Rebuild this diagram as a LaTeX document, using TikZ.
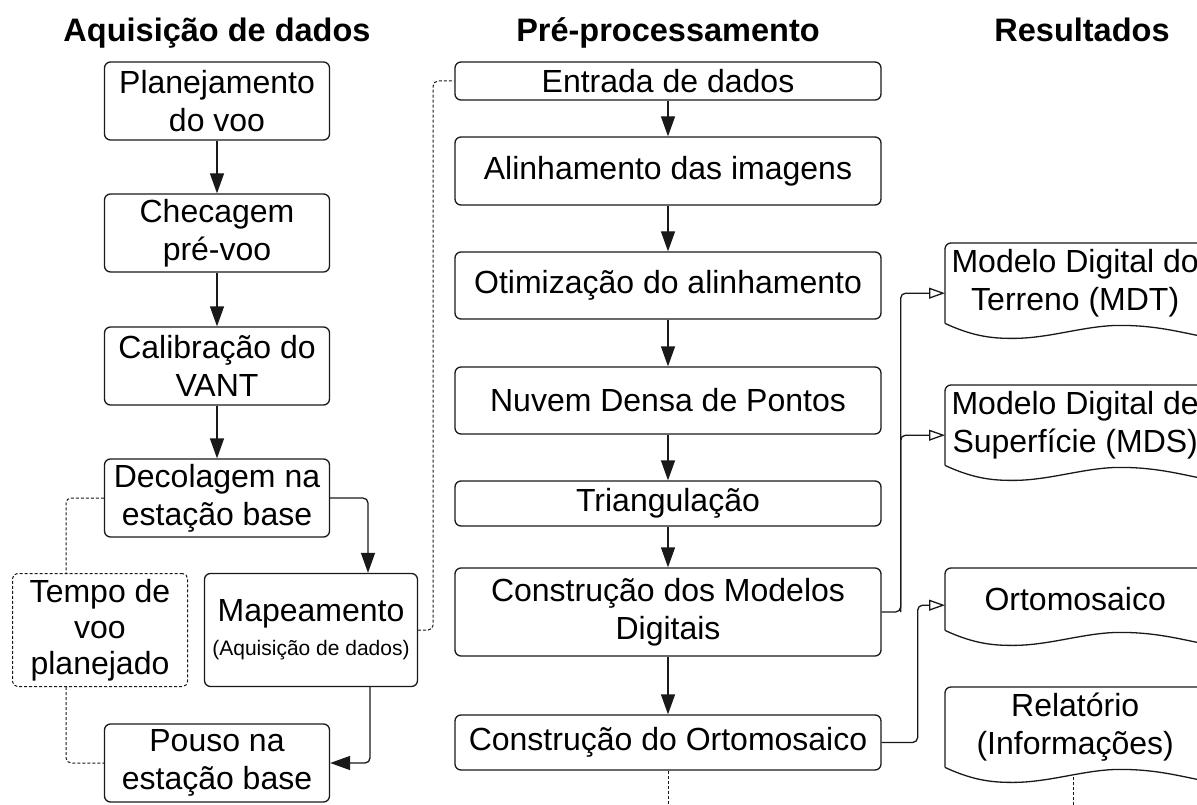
\documentclass[tikz,border=0pt]{standalone}
\usepackage{fontspec}
\setmainfont{Liberation Sans}
\usetikzlibrary{arrows.meta}
\tikzset{
  caixa/.style={draw=black!90, line width=1.3pt, rounded corners=6pt, align=center, inner sep=2pt,
    minimum width=225pt, minimum height=78pt, font=\fontsize{32}{38}\selectfont},
  etapa/.style={caixa, minimum width=426pt},
  documento/.style={anchor=north west, align=center, inner sep=0pt, minimum width=260pt,
    font=\fontsize{32}{38}\selectfont},
  titulo/.style={anchor=base, font=\fontsize{32.5}{38}\selectfont\bfseries},
  linha/.style={draw=black!90, line width=1.3pt},
  seta/.style={linha, rounded corners=5pt, -{Triangle[length=20pt,width=14pt]}},
  seta aberta/.style={linha, rounded corners=5pt, -{Triangle[open,length=16pt,width=11pt]}},
  tracejado/.style={draw=black!90, line width=1pt, rounded corners=5pt, dash pattern=on 3pt off 2pt}
}
\begin{document}
\begin{tikzpicture}[x=1pt,y=-1pt]
\useasboundingbox (0,0) rectangle (1197,805);
\clip (0,0) rectangle (1197,805);
\node[titulo] (tit1) at (217,42) {Aquisição de dados};
\node[titulo] (tit2) at (668,42) {Pré-processamento};
\node[titulo] (tit3) at (1082,42) {Resultados};
% aquisicao de dados
\node[caixa] (plan) at (217,101) {Planejamento\\do voo};
\node[caixa] (chec) at (217,233) {Checagem\\pré-voo};
\node[caixa] (cali) at (217,366) {Calibração do\\VANT};
\node[caixa] (deco) at (217,498) {Decolagem na\\estação base};
\node[caixa, tracejado, minimum width=175pt, minimum height=113pt, font=\fontsize{32}{36}\selectfont] (tempo) at (100,630) {Tempo de\\voo\\planejado};
\node[caixa, minimum width=213pt, minimum height=113pt] (mapa) at (311,630) {Mapeamento\\[-4pt]{\fontsize{21}{26}\selectfont(Aquisição de dados)}};
\node[caixa] (pouso) at (217,763) {Pouso na\\estação base};
% pre-processamento
\node[etapa, minimum height=38pt] (entr) at (668,81) {Entrada de dados};
\node[etapa, minimum height=68pt] (alin) at (668,171) {Alinhamento das imagens};
\node[etapa, minimum height=67pt] (otim) at (668,285.5) {Otimização do alinhamento};
\node[etapa, minimum height=67pt] (nuvem) at (668,400.5) {Nuvem Densa de Pontos};
\node[etapa, minimum height=45pt] (tria) at (668,503.5) {Triangulação};
\node[etapa, minimum height=88pt] (mode) at (668,612) {Construção dos Modelos\\Digitais};
\node[etapa, minimum height=55pt] (ortc) at (668,742.5) {Construção do Ortomosaico};
% resultados
\node[documento, minimum height=80pt] (mdt) at (945,243) {Modelo Digital do\\Terreno (MDT)};
\node[documento, minimum height=80pt] (mds) at (945,385) {Modelo Digital de\\Superfície (MDS)};
\node[documento, minimum height=62pt] (orto) at (945,568) {Ortomosaico};
\node[documento, minimum height=80pt] (rel) at (945,687) {Relatório\\(Informações)};
\foreach \d in {mdt,mds,orto,rel}{
  \draw[linha] (\d.south west) [rounded corners=6pt] -- (\d.north west) -- (\d.north east) [sharp corners] -- ([yshift=-12pt]\d.south east);
  \draw[linha] (\d.south west) .. controls +(30,14) and +(-18,0) .. ++(68,15)
    .. controls +(37,0) and +(-35,0) .. ++(107,-13) .. controls +(35,0) and +(-30,-6) .. ++(87,12);
}
% conexoes
\foreach \a/\b in {plan/chec,chec/cali,cali/deco,entr/alin,alin/otim,otim/nuvem,nuvem/tria,tria/mode,mode/ortc}
  \draw[seta] (\a.south) -- (\b.north);
\draw[seta] (deco.east) -| ([xshift=57pt]mapa.north);
\draw[seta] ([xshift=59pt]mapa.south) |- (pouso.east);
\draw[tracejado] (deco.west) -| ([xshift=-34pt]tempo.north);
\draw[tracejado] ([xshift=-34pt]tempo.south) |- (pouso.west);
\draw[tracejado] (mapa.east) -- ++(15,0) |- (entr.west);
\draw[seta aberta] (mode.east) -- ++(19,0) |- ([yshift=-10pt]mdt.west);
\draw[seta aberta] ([xshift=19pt]mode.east) |- ([yshift=-10pt]mds.west);
\draw[seta aberta] (ortc.east) -- ++(36,0) |- ([yshift=-6pt]orto.west);
\coordinate (fim1) at (668,815);
\coordinate (fim2) at (1073,815);
\draw[tracejado] (ortc.south) -- (fim1);
\draw[tracejado] ([shift={(128,10)}]rel.south west) -- (fim2);
\end{tikzpicture}
\end{document}
